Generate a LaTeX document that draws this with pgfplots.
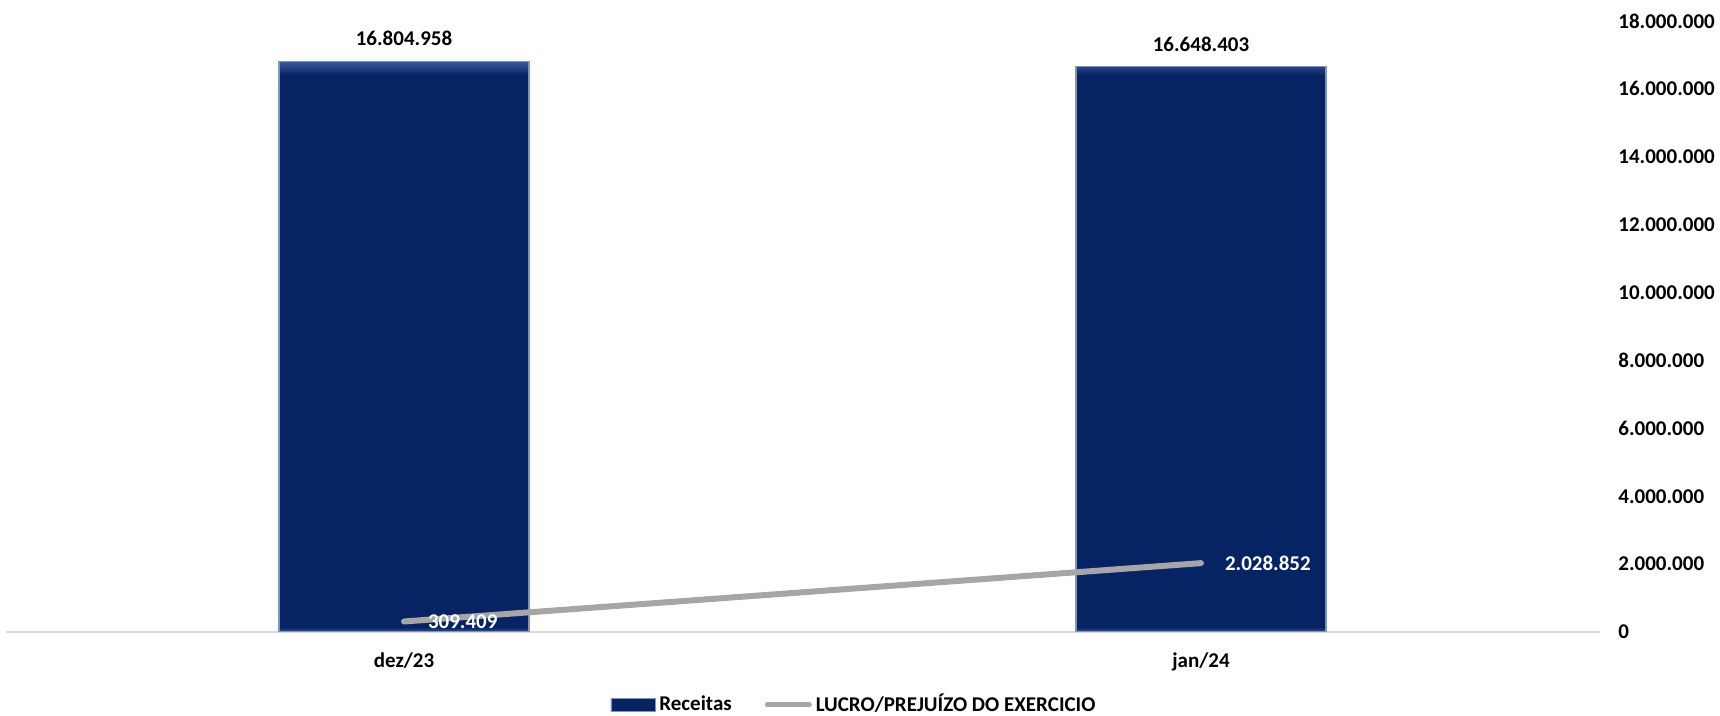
\documentclass[border=0pt]{standalone}
\usepackage{fontspec}
\setmainfont{Carlito}
\usepackage{pgfplots}
\pgfplotsset{compat=1.18}

\definecolor{barblue}{RGB}{6,36,100}
\definecolor{bartop}{RGB}{58,90,158}
\definecolor{barline}{RGB}{130,148,182}
\definecolor{lucro}{RGB}{166,166,166}
\definecolor{basegray}{RGB}{217,217,217}

% light top and bottom edge, like the bevel of the original bars
\pgfdeclareverticalshading{barbevel}{100bp}{%
  color(0bp)=(bartop); color(25bp)=(bartop); color(25.4bp)=(barblue);
  color(73.8bp)=(barblue); color(75bp)=(bartop); color(100bp)=(bartop)}

\newcommand{\lblfont}{\fontsize{10.5}{12.6}\selectfont\bfseries}

\begin{document}
\lblfont
\begin{tikzpicture}
\path[use as bounding box] (0pt,0pt) rectangle (860pt,358pt);
\begin{axis}[
    at={(2.75pt,42pt)}, anchor=south west,
    scale only axis, width=797pt, height=305.5pt,
    xmin=-0.5, xmax=1.5, ymin=0, ymax=18000000,
    axis x line*=bottom, axis y line*=right,
    x axis line style={basegray, line width=1pt, -},
    y axis line style={draw=none},
    major tick length=0pt,
    xtick={0,1}, xticklabels={dez/23, jan/24},
    xticklabel style={font=\lblfont, anchor=north, inner sep=0pt, yshift=-10pt},
    ytick={0,2000000,...,18000000},
    scaled y ticks=false,
    yticklabel pos=right,
    yticklabel style={font=\lblfont, anchor=west, inner sep=0pt, xshift=9.25pt},
    legend columns=2,
    legend style={at={(0.5317,-0.119)}, anchor=center, draw=none, fill=none,
        inner sep=0pt, font=\lblfont, nodes={inner sep=0pt},
        /tikz/every odd column/.append style={column sep=2pt},
        /tikz/every even column/.append style={column sep=16.5pt}},
    /pgf/number format/fixed,
    /pgf/number format/1000 sep={.},
    /pgf/number format/assume math mode=true,
]
\addplot[ybar, bar width=125pt, bar shift=0pt, shading=barbevel,
    draw=barline, line width=0.6pt,
    nodes near coords,
    nodes near coords style={font=\lblfont, text=black, anchor=south, inner sep=0pt, yshift=7.5pt},
    legend image code/.code={\shade[shading=barbevel, draw=barline, line width=0.4pt]
        (0pt,-3.25pt) rectangle (22pt,3.25pt);}]
coordinates {(0,16804958) (1,16648403)};
\addlegendentry{Receitas}
\addplot[lucro, line width=3pt, line cap=round, mark=none,
    nodes near coords,
    nodes near coords style={font=\lblfont, text=white, anchor=west, inner sep=0pt, xshift=10.5pt},
    legend image code/.code={\draw[lucro, line width=2.5pt, line cap=round] (0pt,0pt) -- (21pt,0pt);}]
coordinates {(0,309409) (1,2028852)};
\addlegendentry{LUCRO/PREJUÍZO DO EXERCICIO}
\end{axis}
\end{tikzpicture}
\end{document}
